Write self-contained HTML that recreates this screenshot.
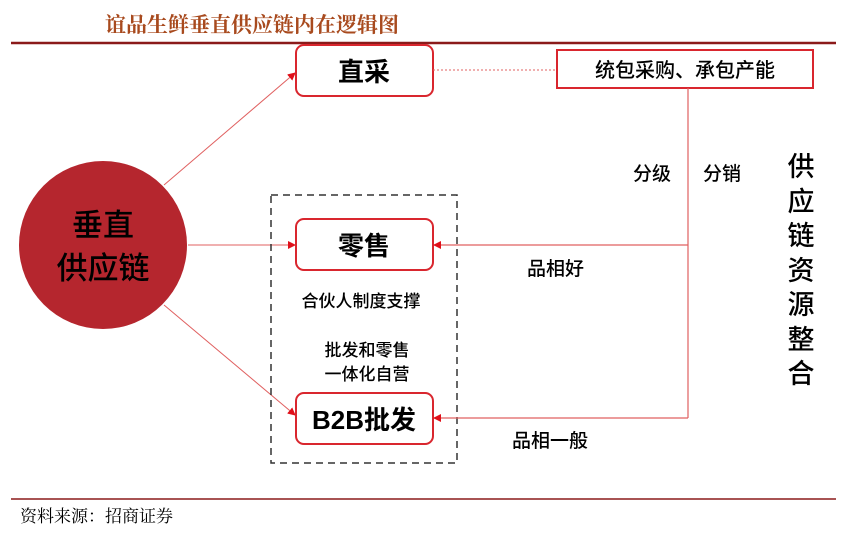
<!DOCTYPE html>
<html><head><meta charset="utf-8"><style>
html,body{margin:0;padding:0;background:#fff;}
svg text{font-family:"Liberation Sans","Noto Sans CJK SC",sans-serif;}
svg text.serif{font-family:"Liberation Serif","Noto Serif CJK SC",serif;}
</style></head><body>
<svg width="864" height="537" viewBox="0 0 864 537" xmlns="http://www.w3.org/2000/svg">
<defs>
<marker id="a" markerWidth="8" markerHeight="8" refX="7" refY="4" orient="auto" markerUnits="userSpaceOnUse">
<path d="M0,0 L8,4 L0,8 Z" fill="#e0101a"/></marker>
</defs>
<text class="serif" x="105" y="32" font-size="21" fill="#a84a1e" font-weight="bold">谊品生鲜垂直供应链内在逻辑图</text>
<line x1="11" y1="43" x2="836" y2="43" stroke="#8b1a1a" stroke-width="2.5"/>
<circle cx="103" cy="245" r="84" fill="#b5262e"/>
<text x="103" y="236" font-size="31" text-anchor="middle" fill="#000" font-weight="500">垂直</text>
<text x="103" y="279" font-size="31" text-anchor="middle" fill="#000" font-weight="500">供应链</text>
<line x1="164" y1="185" x2="295" y2="73" stroke="#e06060" stroke-width="1" marker-end="url(#a)"/>
<line x1="188" y1="245" x2="295" y2="245" stroke="#e06060" stroke-width="1" marker-end="url(#a)"/>
<line x1="164" y1="305" x2="295" y2="415" stroke="#e06060" stroke-width="1" marker-end="url(#a)"/>
<rect x="271" y="195" width="186" height="268" fill="none" stroke="#333" stroke-width="1.5" stroke-dasharray="7,5"/>
<rect x="296" y="45" width="137" height="51" rx="8" fill="#fff" stroke="#d9262e" stroke-width="2"/>
<text x="364" y="81" font-size="26" text-anchor="middle" font-weight="bold">直采</text>
<rect x="296" y="219" width="137" height="51" rx="8" fill="#fff" stroke="#d9262e" stroke-width="2"/>
<text x="364" y="255" font-size="26" text-anchor="middle" font-weight="bold">零售</text>
<rect x="296" y="393" width="137" height="51" rx="8" fill="#fff" stroke="#d9262e" stroke-width="2"/>
<text x="364" y="429" font-size="26" text-anchor="middle" font-weight="bold">B2B批发</text>
<rect x="557" y="50" width="256" height="38" fill="#fff" stroke="#d9262e" stroke-width="2"/>
<text x="685" y="77" font-size="20" text-anchor="middle" font-weight="500">统包采购、承包产能</text>
<line x1="433" y1="70" x2="557" y2="70" stroke="#e06060" stroke-width="1" stroke-dasharray="2,2"/>
<line x1="688" y1="88" x2="688" y2="418" stroke="#e06060" stroke-width="1.2"/>
<line x1="688" y1="245" x2="434" y2="245" stroke="#e06060" stroke-width="1.2" marker-end="url(#a)"/>
<line x1="688" y1="418" x2="434" y2="418" stroke="#e06060" stroke-width="1.2" marker-end="url(#a)"/>
<g font-weight="500">
<text x="633" y="180" font-size="19">分级</text>
<text x="703" y="180" font-size="19">分销</text>
<text x="527" y="275" font-size="19">品相好</text>
<text x="512" y="447" font-size="19">品相一般</text>
<text x="361" y="307" font-size="17" text-anchor="middle">合伙人制度支撑</text>
<text x="367" y="356" font-size="17" text-anchor="middle">批发和零售</text>
<text x="367" y="380" font-size="17" text-anchor="middle">一体化自营</text>
</g>
<g font-size="27" text-anchor="middle" font-weight="500">
<text x="801" y="176">供</text>
<text x="801" y="211">应</text>
<text x="801" y="245">链</text>
<text x="801" y="280">资</text>
<text x="801" y="314">源</text>
<text x="801" y="349">整</text>
<text x="801" y="383">合</text>
</g>
<line x1="11" y1="499" x2="836" y2="499" stroke="#8b1a1a" stroke-width="1.5"/>
<text class="serif" x="20" y="522" font-size="17">资料来源：招商证券</text>
</svg>
</body></html>
